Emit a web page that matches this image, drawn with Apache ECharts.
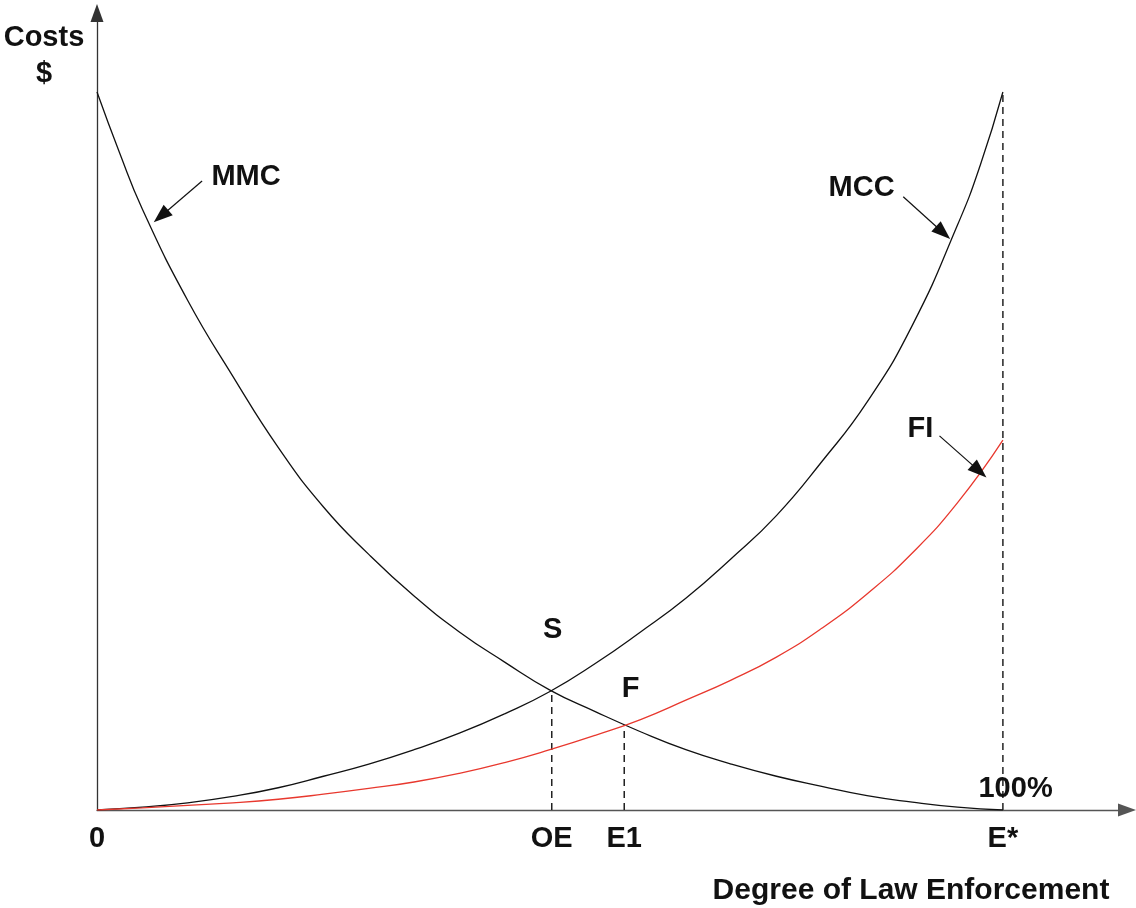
<!DOCTYPE html>
<html>
<head>
<meta charset="utf-8">
<script src="https://cdn.jsdelivr.net/npm/echarts@6/dist/echarts.min.js"></script>
<style>
html,body{margin:0;padding:0;background:#fff;}
#chart{width:1136px;height:908px;}
</style>
</head>
<body>
<div id="chart"></div>
<script>
// ---- Data ----
const mmcX = [0, 2.5, 5, 10, 15, 20, 25, 30, 35, 40, 45, 50, 55, 60, 65, 70, 75, 80, 85, 90, 95, 100];
const mmcY = [100, 91.5, 83.7, 71.0, 60.4, 50.5, 42.2, 35.6, 29.8, 24.8, 20.6, 16.7, 13.7, 10.9, 8.4, 6.4, 4.7, 3.3, 2.0, 1.1, 0.4, 0];

const mccX = [0, 5, 10, 15, 20, 25, 30, 35, 40, 45, 50, 55, 60, 65, 70, 75, 80, 85, 90, 95, 97.5, 100];
const mccY = [0, 0.4, 1.0, 1.9, 3.1, 4.7, 6.4, 8.4, 10.7, 13.4, 16.5, 20.4, 24.8, 29.5, 35.0, 41.0, 48.5, 56.8, 67.5, 81.5, 89.8, 100];

const fiX = [0, 5, 10, 15, 20, 25, 30, 35, 40, 45, 50, 55, 60, 65, 70, 75, 80, 85, 90, 95, 100];
const fiY = [0, 0.3, 0.65, 1.0, 1.5, 2.2, 3.0, 3.9, 5.1, 6.6, 8.4, 10.4, 12.6, 15.3, 18.1, 21.3, 25.3, 30.1, 35.8, 42.8, 51.5];

// tick labels on the x axis
const tickValues = [0, 50.2, 58.2, 100];
const tickLabels = ['0', 'OE', 'E1', 'E*'];

// dashed guide lines (x position, top value)
const guideX = [50.2, 58.2, 100];
const guideTop = [16.6, 11.8, 100];

// text annotations
const noteX = [16.45, 84.4, 90.9, 50.3, 58.9, 101.4];
const noteY = [88.2, 86.6, 53.1, 25.1, 16.9, 2.9];
const noteText = ['MMC', 'MCC', 'FI', 'S', 'F', '100%'];

// pointer arrows
const arrowFromX = [11.6, 89.0, 93.0];
const arrowFromY = [87.6, 85.4, 52.1];
const arrowToX = [7.06, 93.4, 97.4];
const arrowToY = [82.7, 80.4, 47.2];

const yTitle = 'Costs\n$';
const xTitle = 'Degree of Law Enforcement';

// ---- Build ----
const zip = (xs, ys) => xs.map((x, i) => [x, ys[i]]);
const FONT = '"Liberation Sans", Arial, sans-serif';
const INK = '#111111';

const series = [
  {
    name: 'MMC', type: 'line', data: zip(mmcX, mmcY),
    smooth: 0.5, showSymbol: false, silent: true,
    lineStyle: { color: INK, width: 1.3 }
  },
  {
    name: 'MCC', type: 'line', data: zip(mccX, mccY),
    smooth: 0.5, showSymbol: false, silent: true,
    lineStyle: { color: INK, width: 1.3 }
  },
  {
    name: 'FI', type: 'line', data: zip(fiX, fiY),
    smooth: 0.5, showSymbol: false, silent: true,
    lineStyle: { color: '#e8382e', width: 1.3 }
  }
];

guideX.forEach((gx, i) => {
  series.push({
    type: 'line', data: [[gx, 0], [gx, guideTop[i]]],
    showSymbol: false, silent: true, z: 1,
    lineStyle: { color: '#222', width: 1.5, type: [7, 5] }
  });
});

series.push({
  type: 'line', data: [], silent: true,
  markLine: {
    silent: true, animation: false,
    symbol: ['none', 'triangle'], symbolSize: [14, 19],
    label: { show: false },
    lineStyle: { color: INK, width: 1.2, type: 'solid' },
    data: arrowFromX.map((fx, i) => [
      { coord: [fx, arrowFromY[i]] },
      { coord: [arrowToX[i], arrowToY[i]] }
    ])
  }
});

series.push({
  type: 'scatter', symbolSize: 0, silent: true, clip: false,
  itemStyle: { opacity: 1 },
  data: noteX.map((x, i) => ({ value: [x, noteY[i]], name: noteText[i] })),
  label: {
    show: true, position: 'inside', formatter: '{b}',
    color: INK, fontFamily: FONT, fontSize: 29, fontWeight: 'bold', opacity: 1
  }
});

const chart = echarts.init(document.getElementById('chart'), null, { renderer: 'canvas' });
chart.setOption({
  animation: false,
  backgroundColor: '#ffffff',
  grid: { left: 97, top: 13, width: 1030, height: 797, containLabel: false },
  xAxis: {
    type: 'value', min: 0, max: 113.7,
    splitLine: { show: false },
    axisTick: { show: false },
    axisLine: {
      show: true, onZero: false,
      symbol: ['none', 'triangle'], symbolSize: [13, 18],
      lineStyle: { color: '#555', width: 1.3 }
    },
    axisLabel: {
      show: true, customValues: tickValues, margin: 14,
      color: INK, fontFamily: FONT, fontSize: 29, fontWeight: 'bold',
      formatter: v => {
        const i = tickValues.findIndex(t => Math.abs(t - v) < 1e-6);
        return i >= 0 ? tickLabels[i] : '';
      }
    }
  },
  yAxis: {
    type: 'value', min: 0, max: 111,
    splitLine: { show: false },
    axisTick: { show: false },
    axisLabel: { show: false },
    axisLine: {
      show: true, onZero: false,
      symbol: ['none', 'triangle'], symbolSize: [13, 18],
      lineStyle: { color: '#333', width: 1.3 }
    }
  },
  graphic: [
    {
      type: 'text', z: 10,
      style: {
        text: yTitle, x: 44, y: 20, textAlign: 'center',
        fill: INK, font: 'bold 29px ' + FONT, lineHeight: 36
      }
    },
    {
      type: 'text', z: 10,
      style: {
        text: xTitle, x: 911, y: 891, textAlign: 'center', textVerticalAlign: 'middle',
        fill: INK, font: 'bold 30px ' + FONT
      }
    }
  ],
  series: series
});
</script>
</body>
</html>
